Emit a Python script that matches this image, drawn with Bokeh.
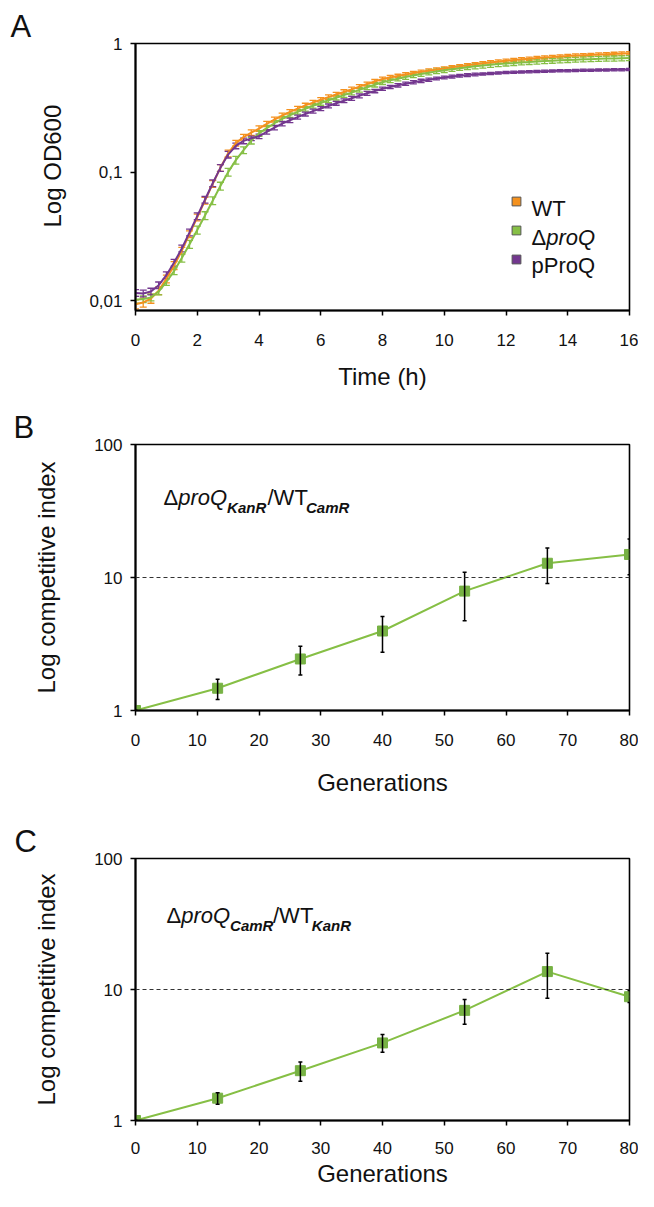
import math
from bokeh.plotting import figure
from bokeh.models import (ColumnDataSource, Whisker, TeeHead, FixedTicker, Label,
                          Span, Legend, LegendItem, Range1d, Title)
from bokeh.layouts import column
from bokeh.embed import file_html
from bokeh.resources import INLINE

FONT = "Liberation Sans"
TXT = "#111111"

# ---------------- Panel A: growth curves ----------------
time_h = [0.0, 0.25, 0.5, 0.75, 1.0, 1.25, 1.5, 1.75, 2.0, 2.25, 2.5, 2.75, 3.0,
          3.25, 3.5, 3.75, 4.0, 4.25, 4.5, 4.75, 5.0, 5.25, 5.5, 5.75, 6.0,
          6.25, 6.5, 6.75, 7.0, 7.25, 7.5, 7.75, 8.0, 8.25, 8.5, 8.75, 9.0,
          9.25, 9.5, 9.75, 10.0, 10.25, 10.5, 10.75, 11.0, 11.25, 11.5, 11.75, 12.0,
          12.25, 12.5, 12.75, 13.0, 13.25, 13.5, 13.75, 14.0, 14.25, 14.5, 14.75, 15.0,
          15.25, 15.5, 15.75, 16.0]

od_wt = [0.0094, 0.0097, 0.0104, 0.0120, 0.0148, 0.0188, 0.0245, 0.0330, 0.0445, 0.0600, 0.0810, 0.1080, 0.1400,
         0.1680, 0.1870, 0.2030, 0.2180, 0.2370, 0.2560, 0.2750, 0.2940, 0.3120, 0.3300, 0.3470, 0.3650,
         0.3830, 0.4010, 0.4200, 0.4400, 0.4620, 0.4840, 0.5070, 0.5300, 0.5450, 0.5600, 0.5750, 0.5900,
         0.6030, 0.6150, 0.6280, 0.6400, 0.6530, 0.6650, 0.6780, 0.6900, 0.7010, 0.7130, 0.7240, 0.7350,
         0.7440, 0.7530, 0.7610, 0.7700, 0.7780, 0.7850, 0.7930, 0.8000, 0.8050, 0.8100, 0.8150, 0.8200,
         0.8250, 0.8300, 0.8350, 0.8400]

od_dproq = [0.0102, 0.0103, 0.0106, 0.0118, 0.0140, 0.0170, 0.0215, 0.0275, 0.0355, 0.0460, 0.0600, 0.0780, 0.1000,
            0.1240, 0.1480, 0.1760, 0.2000, 0.2200, 0.2400, 0.2590, 0.2770, 0.2940, 0.3110, 0.3280, 0.3450,
            0.3620, 0.3790, 0.3970, 0.4150, 0.4360, 0.4570, 0.4780, 0.5000, 0.5170, 0.5330, 0.5490, 0.5650,
            0.5790, 0.5930, 0.6070, 0.6200, 0.6320, 0.6430, 0.6540, 0.6650, 0.6740, 0.6830, 0.6920, 0.7000,
            0.7060, 0.7130, 0.7190, 0.7250, 0.7300, 0.7350, 0.7400, 0.7450, 0.7490, 0.7530, 0.7560, 0.7600,
            0.7630, 0.7650, 0.7680, 0.7700]

od_pproq = [0.0115, 0.0114, 0.0118, 0.0132, 0.0158, 0.0198, 0.0255, 0.0340, 0.0455, 0.0610, 0.0820, 0.1080, 0.1370,
            0.1600, 0.1750, 0.1830, 0.1900, 0.2060, 0.2220, 0.2380, 0.2530, 0.2680, 0.2830, 0.2980, 0.3120,
            0.3270, 0.3430, 0.3590, 0.3750, 0.3920, 0.4100, 0.4270, 0.4450, 0.4590, 0.4730, 0.4870, 0.5000,
            0.5120, 0.5230, 0.5340, 0.5450, 0.5530, 0.5610, 0.5680, 0.5750, 0.5800, 0.5850, 0.5900, 0.5950,
            0.5980, 0.6010, 0.6040, 0.6070, 0.6090, 0.6110, 0.6130, 0.6150, 0.6170, 0.6190, 0.6200, 0.6220,
            0.6230, 0.6250, 0.6260, 0.6280]

# relative standard deviation of each reading
err_wt = [0.08, 0.08, 0.08, 0.07, 0.07, 0.07, 0.06, 0.06, 0.06, 0.06, 0.06, 0.06, 0.06,
          0.05, 0.05, 0.05, 0.05, 0.045, 0.045, 0.045, 0.04, 0.04, 0.04, 0.04, 0.04, 0.04,
          0.04, 0.04, 0.04, 0.035, 0.035, 0.035, 0.035, 0.035, 0.03, 0.03, 0.03, 0.03, 0.03,
          0.03, 0.03, 0.03, 0.03, 0.03, 0.03, 0.03, 0.03, 0.03, 0.03, 0.03, 0.03, 0.03,
          0.03, 0.03, 0.03, 0.03, 0.03, 0.03, 0.03, 0.03, 0.03, 0.03, 0.03, 0.03, 0.03]
err_dproq = [0.06, 0.06, 0.06, 0.06, 0.06, 0.06, 0.07, 0.07, 0.07, 0.07, 0.07, 0.07, 0.07,
             0.07, 0.06, 0.06, 0.05, 0.05, 0.045, 0.045, 0.04, 0.04, 0.04, 0.04, 0.04, 0.04,
             0.04, 0.04, 0.04, 0.04, 0.04, 0.04, 0.04, 0.04, 0.04, 0.04, 0.04, 0.04, 0.04,
             0.04, 0.04, 0.04, 0.04, 0.04, 0.045, 0.045, 0.045, 0.045, 0.045, 0.045, 0.045, 0.045,
             0.045, 0.045, 0.045, 0.045, 0.045, 0.045, 0.045, 0.045, 0.045, 0.045, 0.045, 0.045, 0.045]
err_pproq = [0.06, 0.06, 0.06, 0.06, 0.06, 0.06, 0.06, 0.06, 0.06, 0.06, 0.06, 0.06, 0.06,
             0.05, 0.05, 0.04, 0.04, 0.04, 0.04, 0.04, 0.04, 0.035, 0.035, 0.035, 0.035, 0.035,
             0.035, 0.035, 0.035, 0.035, 0.035, 0.03, 0.03, 0.03, 0.03, 0.03, 0.03, 0.03, 0.03,
             0.025, 0.025, 0.025, 0.025, 0.025, 0.025, 0.02, 0.02, 0.02, 0.02, 0.02, 0.02, 0.02,
             0.02, 0.02, 0.02, 0.02, 0.02, 0.02, 0.02, 0.02, 0.02, 0.02, 0.02, 0.02, 0.02]

a_xticks = [0, 2, 4, 6, 8, 10, 12, 14, 16]
a_yticks = [0.01, 0.1, 1]
a_ylabels = ["0,01", "0,1", "1"]

# ---------------- Panels B and C: competitive index ----------------
generations = [0, 13.3, 26.7, 40, 53.3, 66.7, 80]
ci_b = [1.0, 1.47, 2.44, 3.96, 7.9, 12.8, 14.9]
ci_b_low = [1.0, 1.21, 1.85, 2.74, 4.73, 9.0, 10.5]
ci_b_high = [1.0, 1.72, 3.04, 5.1, 10.97, 16.7, 19.5]
ci_c = [1.0, 1.48, 2.40, 3.91, 6.93, 13.7, 8.81]
ci_c_low = [1.0, 1.33, 1.99, 3.32, 5.42, 8.59, 7.95]
ci_c_high = [1.0, 1.63, 2.80, 4.53, 8.39, 18.9, 9.83]
bc_xticks = [0, 10, 20, 30, 40, 50, 60, 70, 80]
bc_yticks = [1, 10, 100]
bc_ylabels = ["1", "10", "100"]

C_WT = "#F4911E"
C_DQ = "#86BF45"
C_PQ = "#73378F"
C_SQ = "#77B244"


def style(p, xticks, yticks, ylabels, xlab_standoff, ylab_standoff):
    p.grid.visible = False
    p.outline_line_color = "black"
    p.outline_line_width = 1.6
    p.outline_line_alpha = 1.0
    p.background_fill_color = "white"
    p.border_fill_color = "white"
    p.xaxis.ticker = FixedTicker(ticks=xticks)
    p.yaxis.ticker = FixedTicker(ticks=yticks)
    p.yaxis.major_label_overrides = {t: l for t, l in zip(yticks, ylabels)}
    for ax in (p.xaxis[0], p.yaxis[0]):
        ax.axis_line_width = 2
        ax.axis_line_color = "black"
        ax.major_tick_line_width = 1.5
        ax.major_tick_line_color = "black"
        ax.major_tick_in = 0
        ax.major_tick_out = 5
        ax.minor_tick_line_color = None
        ax.major_label_text_font = FONT
        ax.major_label_text_font_size = "17px"
        ax.major_label_text_color = TXT
        ax.axis_label_text_font = FONT
        ax.axis_label_text_font_size = "24px"
        ax.axis_label_text_font_style = "normal"
        ax.axis_label_text_color = TXT
    p.xaxis.major_label_standoff = xlab_standoff
    p.yaxis.major_label_standoff = 8
    p.yaxis.axis_label_standoff = ylab_standoff


def letter(p, text, offset):
    p.title.text = text
    p.title.align = "left"
    p.title.offset = offset
    p.title.standoff = 0
    p.title.text_font = FONT
    p.title.text_font_size = "31px"
    p.title.text_font_style = "normal"
    p.title.text_color = TXT


def txt(p, x, y, text, xo, yo, size, fstyle="normal"):
    p.add_layout(Label(x=x, y=y, x_offset=xo, y_offset=yo, text=text,
                       text_font=FONT, text_font_size=f"{size}px",
                       text_font_style=fstyle, text_align="left",
                       text_baseline="alphabetic", text_color=TXT))


# ---------- Figure A ----------
pA = figure(width=638, height=400, x_range=Range1d(0, 16), y_range=Range1d(0.0084, 1),
            y_axis_type="log", output_backend="svg", toolbar_location=None,
            min_border_left=135, min_border_right=9, min_border_top=43, min_border_bottom=90)
style(pA, a_xticks, a_yticks, a_ylabels, 18, 20)
pA.xaxis.axis_label = "Time (h)"
pA.xaxis.axis_label_standoff = 14
letter(pA, "A", -125)
pA.add_layout(Title(text="Log OD600", align="left", offset=83, standoff=42,
                    text_font=FONT, text_font_size="24px", text_font_style="normal",
                    text_color=TXT), "left")

legend_renderers = []
for od, er, col in ((od_wt, err_wt, C_WT), (od_dproq, err_dproq, C_DQ), (od_pproq, err_pproq, C_PQ)):
    src = ColumnDataSource(dict(t=time_h, v=od,
                                lo=[v * (1 - e) for v, e in zip(od, er)],
                                hi=[v * (1 + e) for v, e in zip(od, er)]))
    w = Whisker(base="t", lower="lo", upper="hi", source=src, dimension="height",
                line_color=col, line_width=1.3,
                upper_head=TeeHead(size=7, line_color=col, line_width=1.3),
                lower_head=TeeHead(size=7, line_color=col, line_width=1.3))
    pA.add_layout(w)
    pA.line("t", "v", source=src, line_color=col, line_width=2)
    # zero-size markers: only their legend swatch is visible
    legend_renderers.append(pA.scatter("t", "v", source=src, marker="square", size=0,
                                       fill_color=col, line_color="#555555", line_width=1))

leg = Legend(items=[LegendItem(label=" ", renderers=[r]) for r in legend_renderers],
             location=(370, 40.5), orientation="vertical", glyph_width=22, glyph_height=22,
             label_height=22, label_width=1, label_standoff=0, spacing=7, padding=0,
             margin=0, border_line_color=None, background_fill_alpha=0,
             label_text_font_size="1px")
pA.add_layout(leg)

txt(pA, 0, 1, "WT", 396, -165, 22)
txt(pA, 0, 1, "\u0394", 396, -193.5, 22)
txt(pA, 0, 1, "proQ", 410.7, -193.5, 22, "italic")
txt(pA, 0, 1, "pProQ", 396, -222, 22)


# ---------- Figures B and C ----------
def ci_fig(height, top, bottom_border, left, ci, lo, hi, xlab_standoff, xtitle_standoff):
    p = figure(width=638, height=height, x_range=Range1d(0, 80), y_range=Range1d(1, 100),
               y_axis_type="log", output_backend="svg", toolbar_location=None,
               min_border_left=left, min_border_right=9, min_border_top=top,
               min_border_bottom=bottom_border)
    style(p, bc_xticks, bc_yticks, bc_ylabels, xlab_standoff, 31)
    p.xaxis.axis_label = "Generations"
    p.xaxis.axis_label_standoff = xtitle_standoff
    p.yaxis.axis_label = "Log competitive index"
    p.add_layout(Span(location=10, dimension="width", line_color="#333333",
                      line_width=1, line_dash="4 3"))
    src = ColumnDataSource(dict(g=generations, v=ci, lo=lo, hi=hi))
    p.add_layout(Whisker(base="g", lower="lo", upper="hi", source=src, dimension="height",
                         line_color="black", line_width=1.5, level="glyph",
                         upper_head=TeeHead(size=4, line_color="black", line_width=1.5),
                         lower_head=TeeHead(size=4, line_color="black", line_width=1.5)))
    p.line("g", "v", source=src, line_color=C_DQ, line_width=2)
    p.scatter("g", "v", source=src, marker="square", size=10, fill_color=C_SQ, line_color=C_SQ)
    return p


pB = ci_fig(400, 44, 90, 132, ci_b, ci_b_low, ci_b_high, 18, 20)
letter(pB, "B", -122)
txt(pB, 0, 100, "\u0394", 28, -53, 22)
txt(pB, 0, 100, "proQ", 42.7, -53, 22, "italic")
txt(pB, 0, 100, "KanR", 91.6, -63, 15, "bold italic")
txt(pB, 0, 100, "/WT", 132, -53, 22)
txt(pB, 0, 100, "CamR", 170.5, -63, 15, "bold italic")

pC = ci_fig(391, 58, 71, 131, ci_c, ci_c_low, ci_c_high, 16, 3)
letter(pC, "C", -121)
txt(pC, 0, 100, "\u0394", 31, -57, 22)
txt(pC, 0, 100, "proQ", 45.7, -57, 22, "italic")
txt(pC, 0, 100, "CamR", 94.6, -67, 15, "bold italic")
txt(pC, 0, 100, "/WT", 137.5, -57, 22)
txt(pC, 0, 100, "KanR", 176.3, -67, 15, "bold italic")

layout = column(pA, pB, pC, spacing=0)
open("out.html", "w").write(file_html(layout, INLINE))
